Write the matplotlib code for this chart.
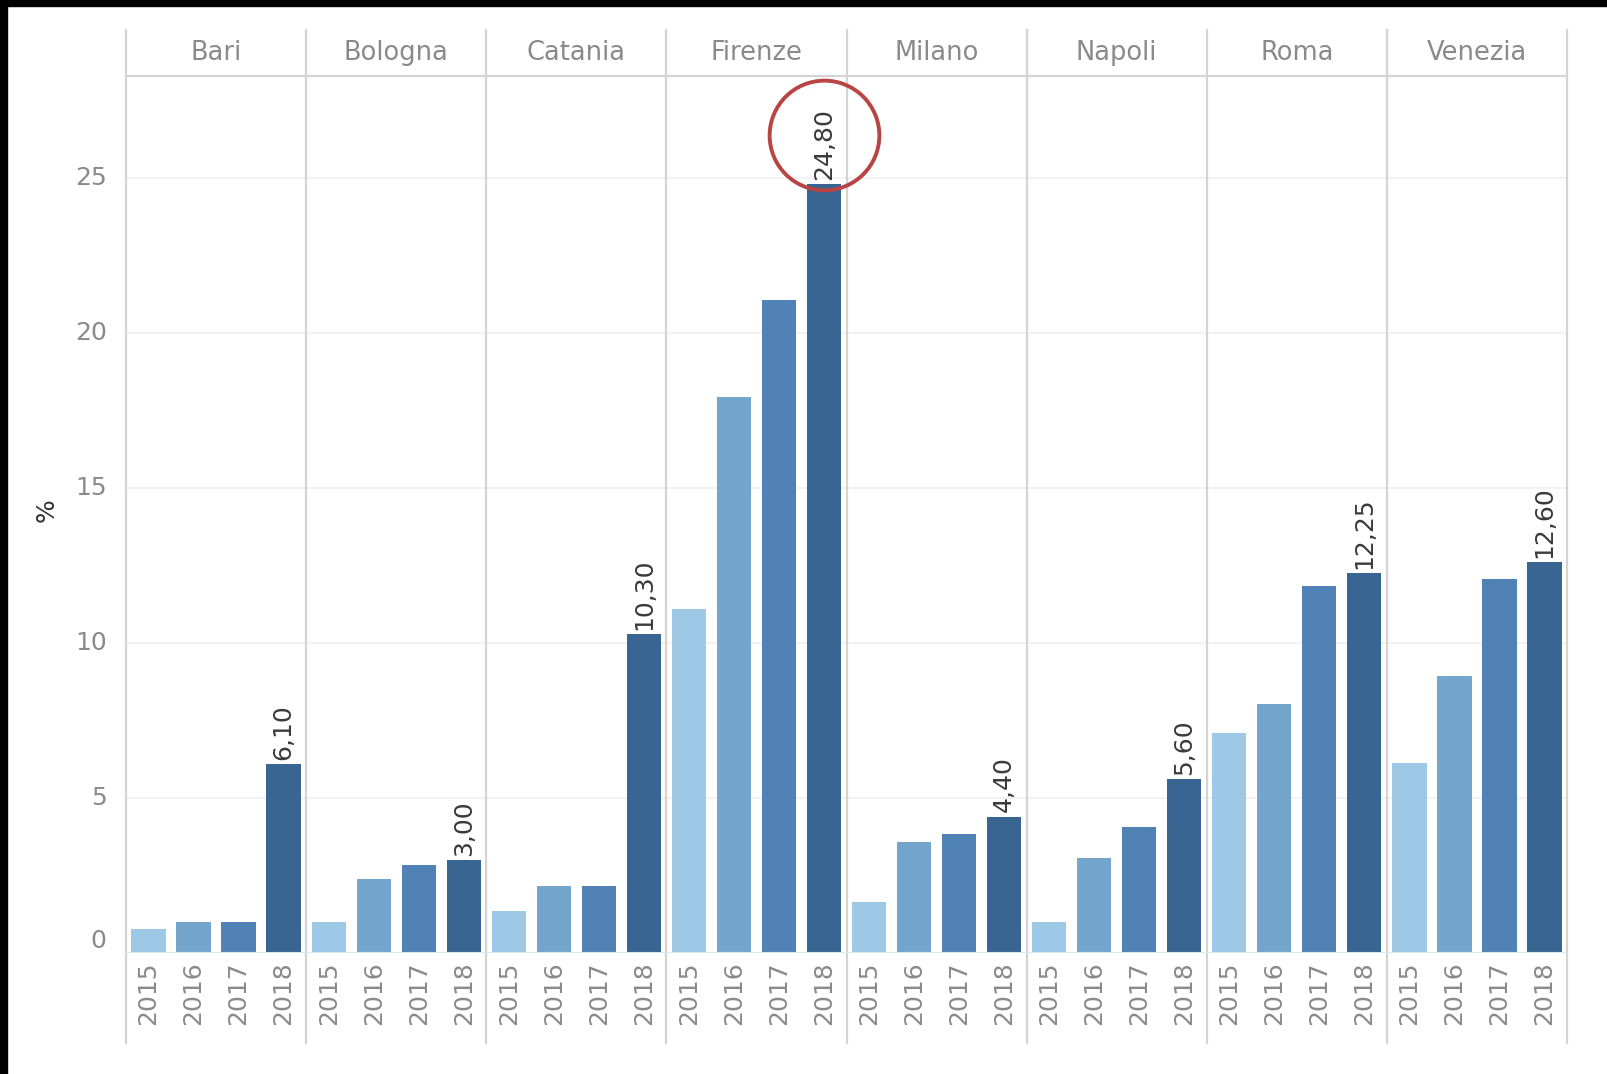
import matplotlib
matplotlib.use("Agg")
import matplotlib.pyplot as plt
import matplotlib.patches as mpatches
import numpy as np

cities = ["Bari", "Bologna", "Catania", "Firenze", "Milano", "Napoli", "Roma", "Venezia"]
years = ["2015", "2016", "2017", "2018"]
v2015 = [0.77, 1.00, 1.37, 11.10, 1.63, 1.00, 7.10, 6.13]
v2016 = [1.00, 2.40, 2.17, 17.93, 3.57, 3.07, 8.03, 8.93]
v2017 = [1.00, 2.83, 2.17, 21.07, 3.83, 4.07, 11.83, 12.07]
v2018 = [6.10, 3.00, 10.30, 24.80, 4.40, 5.60, 12.25, 12.60]
yticks = [0, 5, 10, 15, 20, 25]

colors = ["#9DC8E6", "#74A6CD", "#5182B5", "#386591"]
GRID = "#d4d4d4"
TXT = "#8a8a8a"

W, H = 1607, 1074
fig = plt.figure(figsize=(W / 100, H / 100), dpi=100)
fig.patch.set_facecolor("white")

# plot area in pixels: x 126..1567, y 76 (top) .. 953 (zero line)
x0, x1, ytop, ybot = 126, 1567, 76, 953
ax = fig.add_axes([x0 / W, 1 - ybot / H, (x1 - x0) / W, (ybot - ytop) / H])

series = [v2015, v2016, v2017, v2018]
n = len(cities)
for j, vals in enumerate(series):
    xs = np.arange(n) * 4 + j
    bars = ax.bar(xs, vals, 0.76, color=colors[j], zorder=3)
    if j == 3:
        for b, v in zip(bars, vals):
            ax.annotate(f"{v:.2f}".replace(".", ","),
                        (b.get_x() + b.get_width() / 2, v),
                        xytext=(0, 3), textcoords="offset points",
                        rotation=90, ha="center", va="bottom",
                        fontsize=18, color="#3a3a3a", zorder=4)

ax.set_xlim(-0.5, n * 4 - 0.5)
ax.set_ylim(0, (ybot - ytop) / 31.0)

# faint horizontal gridlines
for t in yticks[1:]:
    ax.axhline(t, color="#f0f0f0", lw=1.2, zorder=1)
ax.axhline(0, color="#dfe5ec", lw=1.5, zorder=4)

for s in ax.spines.values():
    s.set_visible(False)

# year tick labels
ax.set_xticks(np.arange(n * 4))
ax.set_xticklabels(years * n, rotation=90, fontsize=18, color=TXT)
ax.tick_params(axis="x", length=0, pad=6)

# y tick labels drawn as text (0 sits raised, Tableau style)
ax.set_yticks([])
for t in yticks:
    ax.annotate(str(t), (0, t), xycoords=("axes fraction", "data"),
                xytext=(-14, 0 if t else 9), textcoords="offset points",
                ha="right", va="center", fontsize=18, color=TXT)
ax.text(-0.055, 0.505, "%", transform=ax.transAxes, rotation=90,
        ha="center", va="center", fontsize=18, color="#333333")

# panel dividers through header and footer
ax_h = ybot - ytop
top_ext = (ybot - 30) / ax_h
bot_ext = -(1043 - ybot) / ax_h
xtr = ax.get_xaxis_transform()
for k in range(n + 1):
    ax.plot([k * 4 - 0.5] * 2, [bot_ext, top_ext], transform=xtr,
            color=GRID, lw=1.6, clip_on=False, zorder=2)
ax.plot([-0.5, n * 4 - 0.5], [1, 1], transform=xtr, color=GRID, lw=1.6,
        clip_on=False, zorder=2)

# city headers
hy = (ybot - 53) / ax_h
for i, c in enumerate(cities):
    ax.text(i * 4 + 1.5, hy, c, transform=xtr, ha="center", va="center",
            fontsize=18.5, color=TXT)

# red circle around the maximum
imax = int(np.argmax(v2018))
ax.plot([imax * 4 + 3], [max(v2018) + 1.6], marker="o", markersize=79,
        markerfacecolor="none", markeredgecolor="#B94444", markeredgewidth=2.8,
        clip_on=False, zorder=5)

# black border strips (top and left) from the screenshot
fig.patches.append(mpatches.Rectangle((0, 1 - 6 / H), 1, 6 / H, color="black",
                                      transform=fig.transFigure, figure=fig))
fig.patches.append(mpatches.Rectangle((0, 0), 7 / W, 1, color="black",
                                      transform=fig.transFigure, figure=fig))

fig.savefig("out.png", dpi=100)
